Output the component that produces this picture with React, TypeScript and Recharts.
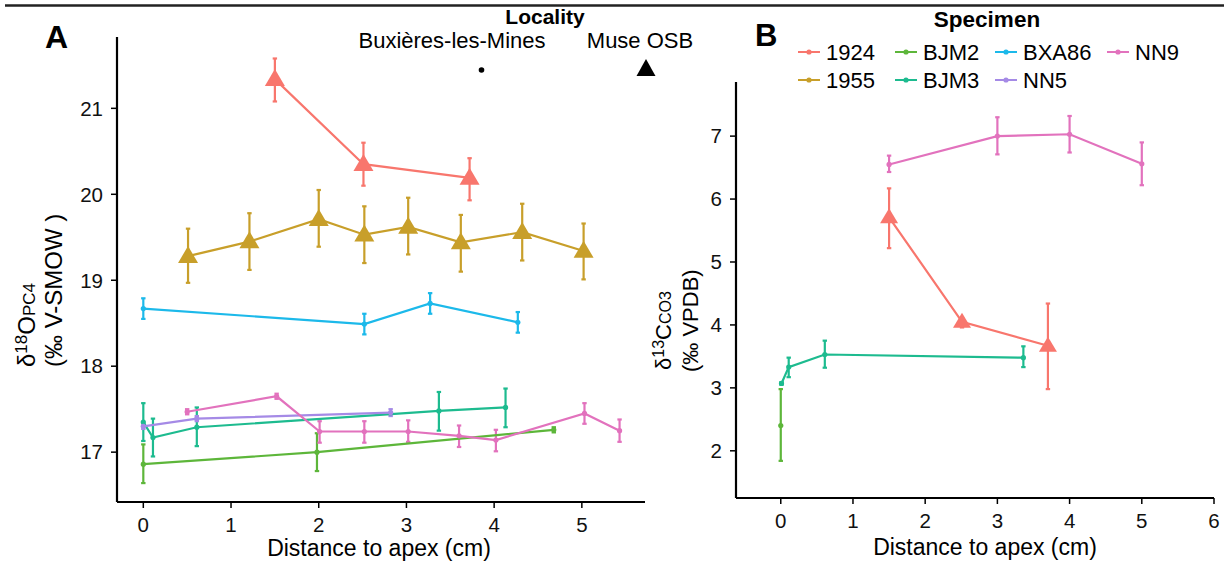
import { ComposedChart, Scatter, XAxis, YAxis, ErrorBar } from 'recharts';

const FONT = '"Liberation Sans", Arial, sans-serif';

// specimen order + colours (ggplot hue, slightly muted like the figure)
const specimens = ['1924', '1955', 'BJM2', 'BJM3', 'BXA86', 'NN5', 'NN9'];
const colours = ['#F8766D', '#C89F2A', '#5DB63A', '#1DBB8F', '#1CB9EA', '#A58AE6', '#E272BD'];
const museOSB = ['1924', '1955'];

// rows: [distance, value, low, high]
type Row = [number, number, number, number];

// panel A: d18O phosphate
const oxy1924: Row[] = [[1.5, 21.34, 21.08, 21.58], [2.51, 20.35, 20.1, 20.6], [3.72, 20.19, 19.93, 20.42]];
const oxy1955: Row[] = [
  [0.51, 19.28, 18.97, 19.6], [1.21, 19.45, 19.12, 19.78], [2.0, 19.71, 19.39, 20.05], [2.52, 19.53, 19.2, 19.86],
  [3.02, 19.62, 19.3, 19.96], [3.62, 19.44, 19.1, 19.76], [4.32, 19.56, 19.23, 19.89], [5.02, 19.34, 19.01, 19.66],
];
const oxyBJM2: Row[] = [[0, 16.86, 16.64, 17.09], [1.98, 17.0, 16.78, 17.22], [4.68, 17.26, 17.23, 17.29]];
const oxyBJM3: Row[] = [
  [0, 17.35, 17.13, 17.57], [0.11, 17.17, 16.95, 17.39], [0.61, 17.29, 17.07, 17.52], [3.37, 17.48, 17.25, 17.7], [4.13, 17.52, 17.29, 17.74],
];
const oxyBXA86: Row[] = [[0, 18.67, 18.55, 18.79], [2.52, 18.49, 18.37, 18.61], [3.27, 18.73, 18.61, 18.85], [4.27, 18.51, 18.39, 18.63]];
const oxyNN5: Row[] = [[0, 17.3, 17.27, 17.33], [0.61, 17.39, 17.36, 17.42], [2.82, 17.46, 17.42, 17.5]];
const oxyNN9: Row[] = [
  [0.5, 17.47, 17.44, 17.5], [1.52, 17.65, 17.62, 17.68], [2.01, 17.24, 17.11, 17.36], [2.52, 17.24, 17.11, 17.36],
  [3.02, 17.24, 17.12, 17.37], [3.6, 17.19, 17.06, 17.31], [4.02, 17.14, 17.01, 17.26], [5.03, 17.45, 17.33, 17.57], [5.43, 17.25, 17.12, 17.38],
];

// panel B: d13C carbonate
const carb1924: Row[] = [[1.5, 5.71, 5.22, 6.17], [2.51, 4.05, 3.96, 4.1], [3.7, 3.67, 2.98, 4.34]];
const carbBJM2: Row[] = [[0, 2.4, 1.84, 2.98]];
const carbBJM3: Row[] = [[0.01, 3.07, 3.05, 3.09], [0.11, 3.33, 3.17, 3.48], [0.61, 3.53, 3.32, 3.75], [3.36, 3.48, 3.33, 3.66]];
const carbNN9: Row[] = [[1.5, 6.55, 6.43, 6.69], [3.0, 7.0, 6.71, 7.3], [4.0, 7.03, 6.74, 7.32], [5.0, 6.56, 6.22, 6.9]];

const ticksAx = [0, 1, 2, 3, 4, 5];
const ticksAy = [17, 18, 19, 20, 21];
const ticksBx = [0, 1, 2, 3, 4, 5, 6];
const ticksBy = [2, 3, 4, 5, 6, 7];

const panelA: [string, Row[]][] = [
  ['1924', oxy1924], ['1955', oxy1955], ['BJM2', oxyBJM2], ['BJM3', oxyBJM3],
  ['BXA86', oxyBXA86], ['NN5', oxyNN5], ['NN9', oxyNN9],
];
const panelB: [string, Row[]][] = [['1924', carb1924], ['BJM2', carbBJM2], ['BJM3', carbBJM3], ['NN9', carbNN9]];

const colourOf = (s: string) => colours[specimens.indexOf(s)];
const toPoints = (rows: Row[]) => rows.map(([x, y, lo, hi]) => ({ x, y, err: [y - lo, hi - y] }));

function marker(col: string, tri: boolean, w: number, h: number) {
  return (p: any) => {
    const { cx, cy } = p;
    if (cx == null || cy == null) return <g />;
    if (tri) {
      const pts = `${cx},${cy - h * 0.6} ${cx - w / 2},${cy + h * 0.4} ${cx + w / 2},${cy + h * 0.4}`;
      return <polygon points={pts} fill={col} />;
    }
    return <circle cx={cx} cy={cy} r={2.6} fill={col} />;
  };
}

const tickStyle = { fontSize: 20.5, fill: '#111', fontFamily: FONT };

function Panel(props: {
  series: [string, Row[]][];
  width: number; height: number;
  margin: { top: number; right: number; left: number; bottom: number };
  xDomain: [number, number]; yDomain: [number, number];
  xTicks: number[]; yTicks: number[];
  yAxisWidth: number; xAxisHeight: number;
  triW: number; triH: number;
}) {
  const { series, width, height, margin, xDomain, yDomain, xTicks, yTicks, yAxisWidth, xAxisHeight, triW, triH } = props;
  return (
    <ComposedChart width={width} height={height} margin={margin}>
      <XAxis
        type="number" dataKey="x" domain={xDomain} ticks={xTicks} interval={0} allowDataOverflow
        height={xAxisHeight} tickSize={6} tickMargin={9}
        axisLine={{ stroke: '#000', strokeWidth: 2.2 }} tickLine={{ stroke: '#000', strokeWidth: 1.5 }}
        tick={tickStyle}
      />
      <YAxis
        type="number" dataKey="y" domain={yDomain} ticks={yTicks} interval={0} allowDataOverflow
        width={yAxisWidth} tickSize={6} tickMargin={8}
        axisLine={{ stroke: '#000', strokeWidth: 2.2 }} tickLine={{ stroke: '#000', strokeWidth: 1.5 }}
        tick={tickStyle}
      />
      {series.map(([name, rows]) => {
        const col = colourOf(name);
        return (
          <Scatter
            key={name} name={name} data={toPoints(rows)} fill={col}
            line={{ stroke: col, strokeWidth: 2.2 }} lineType="joint"
            shape={marker(col, museOSB.includes(name), triW, triH)}
            isAnimationActive={false}
          >
            <ErrorBar dataKey="err" direction="y" width={2.2} stroke={col} strokeWidth={2.2} />
          </Scatter>
        );
      })}
    </ComposedChart>
  );
}

function Overlay() {
  const legendRows = [
    ['1924', 'BJM2', 'BXA86', 'NN9'],
    ['1955', 'BJM3', 'NN5'],
  ];
  const colX = [798, 895, 995, 1107];
  const rowY = [52, 80];
  return (
    <svg width={1229} height={568} style={{ position: 'absolute', left: 0, top: 0, pointerEvents: 'none' }} fontFamily={FONT}>
      <line x1={5} y1={5.5} x2={1224} y2={5.5} stroke="#222" strokeWidth={2.5} />
      <text x={45} y={48} fontSize={32} fontWeight="bold" fill="#000">A</text>
      <text x={755} y={46} fontSize={31} fontWeight="bold" fill="#000">B</text>

      {/* locality legend */}
      <text x={545} y={24} fontSize={21} fontWeight="bold" textAnchor="middle" fill="#000">Locality</text>
      <text x={452} y={48} fontSize={22} textAnchor="middle" fill="#000">Buxières-les-Mines</text>
      <text x={640} y={48} fontSize={22} textAnchor="middle" fill="#000">Muse OSB</text>
      <circle cx={481.5} cy={70} r={2.8} fill="#000" />
      <polygon points="646,59 636.5,76 655.5,76" fill="#000" />

      {/* specimen legend */}
      <text x={987} y={27} fontSize={22.5} fontWeight="bold" textAnchor="middle" fill="#000">Specimen</text>
      {legendRows.map((row, r) =>
        row.map((name, c) => {
          const col = colourOf(name);
          const x = colX[c];
          const y = rowY[r];
          return (
            <g key={name}>
              <line x1={x} y1={y} x2={x + 22} y2={y} stroke={col} strokeWidth={2} />
              <circle cx={x + 11} cy={y} r={2.6} fill={col} />
              <text x={x + 28} y={y + 8} fontSize={22} fill="#000">{name}</text>
            </g>
          );
        })
      )}

      {/* axis titles */}
      <text x={379} y={556} fontSize={23} textAnchor="middle" fill="#000">Distance to apex (cm)</text>
      <text x={985} y={555} fontSize={23} textAnchor="middle" fill="#000">Distance to apex (cm)</text>

      <text x={35} y={367} transform="rotate(-90 35 367)" fontSize={24} fill="#000">
        δ<tspan dy={-8} fontSize={17}>18</tspan><tspan dy={8}>O</tspan><tspan fontSize={17}>PC4</tspan>
      </text>
      <text x={62} y={367} transform="rotate(-90 62 367)" fontSize={24} fill="#000">(‰ V-SMOW )</text>

      <text x={671} y={370} transform="rotate(-90 671 370)" fontSize={22} fill="#000">
        δ<tspan dy={-7} fontSize={16}>13</tspan><tspan dy={7}>C</tspan><tspan fontSize={16}>CO3</tspan>
      </text>
      <text x={698} y={372} transform="rotate(-90 698 372)" fontSize={22} fill="#000">(‰ VPDB)</text>
    </svg>
  );
}

export default function App() {
  return (
    <div style={{ position: 'absolute', left: 0, top: 0, width: 1229, height: 568, background: '#fff', fontFamily: FONT }}>
      <div style={{ position: 'absolute', left: 0, top: 0 }}>
        <Panel
          series={panelA} width={660} height={568}
          margin={{ top: 37, right: 15, left: 0, bottom: 0 }}
          xDomain={[-0.3, 5.72]} yDomain={[16.42, 21.83]}
          xTicks={ticksAx} yTicks={ticksAy}
          yAxisWidth={117} xAxisHeight={66} triW={20} triH={17}
        />
      </div>
      <div style={{ position: 'absolute', left: 620, top: 0 }}>
        <Panel
          series={panelB} width={609} height={568}
          margin={{ top: 82, right: 15, left: 0, bottom: 0 }}
          xDomain={[-0.62, 6]} yDomain={[1.25, 7.86]}
          xTicks={ticksBx} yTicks={ticksBy}
          yAxisWidth={116} xAxisHeight={70} triW={18} triH={15}
        />
      </div>
      <Overlay />
    </div>
  );
}
